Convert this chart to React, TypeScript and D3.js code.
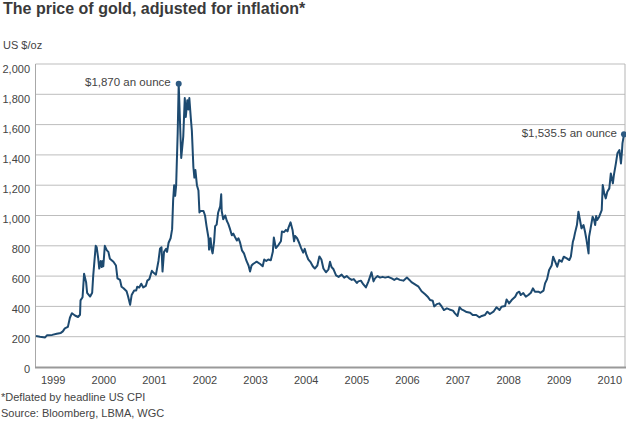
import React from "react";
import * as d3 from "d3";

const title = "The price of gold, adjusted for inflation*";
const unitLabel = "US $/oz";
const footnotes = ["*Deflated by headline US CPI", "Source: Bloomberg, LBMA, WGC"];
const xTickLabels = ["1999", "2000", "2001", "2002", "2003", "2004", "2005", "2006", "2007", "2008", "2009", "2010"];
const yTicks = [0, 200, 400, 600, 800, 1000, 1200, 1400, 1600, 1800, 2000];

const years = [
  1998.66, 1998.74, 1998.84, 1998.88, 1998.98, 1999.07, 1999.15, 1999.19, 1999.23, 1999.29,
  1999.33, 1999.37, 1999.43, 1999.49, 1999.53, 1999.54, 1999.58, 1999.61, 1999.65, 1999.67,
  1999.73, 1999.77, 1999.79, 1999.84, 1999.86, 1999.89, 1999.91, 1999.94, 1999.96, 1999.98,
  1999.99, 2000.02, 2000.06, 2000.09, 2000.12, 2000.19, 2000.24, 2000.27, 2000.32, 2000.35,
  2000.39, 2000.45, 2000.48, 2000.52, 2000.55, 2000.60, 2000.64, 2000.66, 2000.70, 2000.74,
  2000.78, 2000.83, 2000.86, 2000.90, 2000.95, 2000.99, 2001.03, 2001.08, 2001.11, 2001.14,
  2001.16, 2001.19, 2001.23, 2001.25, 2001.28, 2001.32, 2001.35, 2001.37, 2001.39, 2001.41,
  2001.43, 2001.44, 2001.46, 2001.48, 2001.53, 2001.57, 2001.60, 2001.62, 2001.65, 2001.67,
  2001.69, 2001.72, 2001.74, 2001.77, 2001.79, 2001.81, 2001.84, 2001.87, 2001.89, 2001.91,
  2001.97, 2002.00, 2002.03, 2002.07, 2002.08, 2002.11, 2002.13, 2002.15, 2002.18, 2002.20,
  2002.23, 2002.26, 2002.30, 2002.32, 2002.33, 2002.36, 2002.40, 2002.43, 2002.46, 2002.49,
  2002.53, 2002.56, 2002.59, 2002.63, 2002.66, 2002.69, 2002.73, 2002.77, 2002.82, 2002.86,
  2002.89, 2002.92, 2002.95, 2003.02, 2003.09, 2003.14, 2003.17, 2003.21, 2003.25, 2003.30,
  2003.34, 2003.36, 2003.40, 2003.45, 2003.50, 2003.52, 2003.56, 2003.60, 2003.63, 2003.65,
  2003.69, 2003.73, 2003.76, 2003.78, 2003.82, 2003.86, 2003.90, 2003.94, 2003.97, 2004.00,
  2004.04, 2004.09, 2004.13, 2004.17, 2004.22, 2004.26, 2004.30, 2004.34, 2004.39, 2004.44,
  2004.47, 2004.50, 2004.54, 2004.59, 2004.64, 2004.70, 2004.75, 2004.80, 2004.85, 2004.90,
  2004.94, 2005.00, 2005.03, 2005.08, 2005.13, 2005.18, 2005.23, 2005.26, 2005.29, 2005.33,
  2005.36, 2005.41, 2005.46, 2005.51, 2005.56, 2005.62, 2005.69, 2005.74, 2005.79, 2005.85,
  2005.92, 2005.99, 2006.04, 2006.08, 2006.15, 2006.22, 2006.28, 2006.35, 2006.41, 2006.45,
  2006.50, 2006.53, 2006.58, 2006.63, 2006.68, 2006.72, 2006.78, 2006.83, 2006.90, 2006.94,
  2006.99, 2007.03, 2007.07, 2007.12, 2007.17, 2007.24, 2007.29, 2007.36, 2007.42, 2007.47,
  2007.53, 2007.58, 2007.63, 2007.70, 2007.76, 2007.82, 2007.86, 2007.93, 2007.96, 2008.01,
  2008.06, 2008.13, 2008.17, 2008.21, 2008.24, 2008.29, 2008.34, 2008.39, 2008.44, 2008.48,
  2008.52, 2008.59, 2008.63, 2008.69, 2008.72, 2008.76, 2008.80, 2008.85, 2008.88, 2008.92,
  2008.96, 2009.00, 2009.05, 2009.09, 2009.15, 2009.20, 2009.23, 2009.27, 2009.29, 2009.31,
  2009.35, 2009.38, 2009.41, 2009.44, 2009.48, 2009.51, 2009.54, 2009.58, 2009.59, 2009.62,
  2009.66, 2009.69, 2009.71, 2009.73, 2009.75, 2009.79, 2009.84, 2009.86, 2009.89, 2009.92,
  2009.95, 2009.99, 2010.02, 2010.06, 2010.08, 2010.12, 2010.15, 2010.19, 2010.22, 2010.24,
  2010.25, 2010.28,
];

const prices = [
  205, 200, 195, 210, 212, 220, 225, 235, 255, 265,
  325, 355, 340, 330, 345, 440, 460, 615, 560, 490,
  465, 490, 600, 800, 790, 715, 650, 700, 660, 700,
  665, 800, 770, 760, 715, 695, 670, 585, 575, 530,
  520, 500, 465, 410, 475, 505, 505, 530, 525, 550,
  525, 535, 570, 580, 635, 620, 610, 700, 780, 790,
  630, 760, 780, 760, 820, 850, 910, 1100, 1200, 1130,
  1200, 1320, 1545, 1870, 1380, 1520, 1775, 1650, 1760, 1700,
  1775, 1640, 1560, 1320, 1250, 1300, 1200, 1165, 1020, 1030,
  1030, 1000, 930, 850, 775, 850, 775, 750, 830, 930,
  940, 1020, 1060, 1140, 1030, 975, 1000, 965, 945, 915,
  870, 880, 860, 835, 850, 825, 770, 750, 700, 670,
  630, 670, 680, 695, 680, 665, 710, 700, 710, 705,
  760, 855, 785, 805, 830, 895, 890, 905, 895, 920,
  955, 905, 830, 865, 850, 820, 785, 755, 780, 745,
  710, 690, 665, 650, 670, 730, 710, 650, 625, 645,
  695, 660, 645, 605, 595, 610, 590, 600, 585, 575,
  580, 555, 565, 570, 545, 525, 565, 595, 625, 565,
  585, 600, 590, 595, 590, 595, 585, 575, 585, 575,
  570, 590, 575, 560, 545, 530, 500, 480, 460, 442,
  437, 400, 415, 420, 398, 376, 387, 380, 372, 354,
  337, 394, 380, 372, 363, 358, 343, 343, 328, 337,
  343, 365, 350, 365, 394, 376, 398, 403, 446, 420,
  442, 464, 490, 497, 475, 488, 464, 475, 490, 519,
  497, 497, 490, 504, 552, 580, 640, 670, 728, 695,
  662, 706, 695, 728, 717, 706, 728, 827, 849, 882,
  937, 1025, 970, 915, 937, 893, 838, 750, 860, 915,
  992, 970, 937, 997, 970, 992, 1036, 1201, 1146, 1113,
  1157, 1179, 1278, 1212, 1267, 1344, 1410, 1432, 1344, 1421,
  1476, 1535.5,
];

const peakLabel = "$1,870 an ounce";
const lastLabel = "$1,535.5 an ounce";

const W = 626;
const H = 421;
const FONT = "'Liberation Sans', Arial, Helvetica, sans-serif";

export default function App() {
  const x = d3.scaleLinear().domain([1998.65, 2010.3]).range([35.5, 625]);
  const y = d3.scaleLinear().domain([0, 2000]).range([367, 64]);
  const data = years.map((t, i) => ({ t, v: prices[i] }));
  const line = d3
    .line<{ t: number; v: number }>()
    .x((d) => x(d.t))
    .y((d) => y(d.v))
    .curve(d3.curveLinear);

  const peakIdx = d3.maxIndex(prices);
  const lastIdx = prices.length - 1;
  const labelYears = xTickLabels.map((s) => +s);

  return (
    <svg
      width={W}
      height={H}
      style={{ position: "absolute", left: 0, top: 0, background: "#fff" }}
      fontFamily={FONT}
    >
      <text x={3} y={14} fontSize={16} fontWeight="bold" fill="#3a3a3a">
        {title}
      </text>
      <text x={3} y={49} fontSize={11} fill="#444">
        {unitLabel}
      </text>

      {yTicks.map((v) => (
        <g key={v}>
          {v > 0 && (
            <line x1={35.5} x2={625} y1={y(v)} y2={y(v)} stroke="#bdbdbd" strokeWidth={1} />
          )}
          <text
            x={30}
            y={y(v) + 1.5 + v * 0.0016}
            fontSize={11}
            fill="#444"
            textAnchor="end"
            dominantBaseline="central"
          >
            {d3.format(",")(v)}
          </text>
        </g>
      ))}

      <line x1={35.5} x2={35.5} y1={64} y2={367} stroke="#a8a8a8" strokeWidth={1} />
      <line x1={625} x2={625} y1={64} y2={367} stroke="#b5b5b5" strokeWidth={1} />
      <line x1={35} x2={626} y1={367.5} y2={367.5} stroke="#999" strokeWidth={2} />

      {labelYears.map((yr, i) => (
        <text key={yr} x={x(yr)} y={383.5} fontSize={11} fill="#444" textAnchor="middle">
          {xTickLabels[i]}
        </text>
      ))}

      <path d={line(data) || ""} fill="none" stroke="#1d4a70" strokeWidth={2} strokeLinejoin="round" />

      <circle cx={x(years[peakIdx])} cy={y(prices[peakIdx])} r={3} fill="#2d5a82" />
      <text
        x={x(years[peakIdx]) - 8}
        y={y(prices[peakIdx]) + 2}
        fontSize={11.5}
        fill="#444"
        textAnchor="end"
      >
        {peakLabel}
      </text>

      <circle cx={x(years[lastIdx])} cy={y(prices[lastIdx])} r={3} fill="#2d5a82" />
      <text
        x={x(years[lastIdx]) - 7}
        y={y(prices[lastIdx]) + 3}
        fontSize={11.5}
        fill="#444"
        textAnchor="end"
      >
        {lastLabel}
      </text>

      <text x={1} y={401} fontSize={11} fill="#444">
        {footnotes[0]}
      </text>
      <text x={1} y={417} fontSize={11} fill="#444">
        {footnotes[1]}
      </text>
    </svg>
  );
}
